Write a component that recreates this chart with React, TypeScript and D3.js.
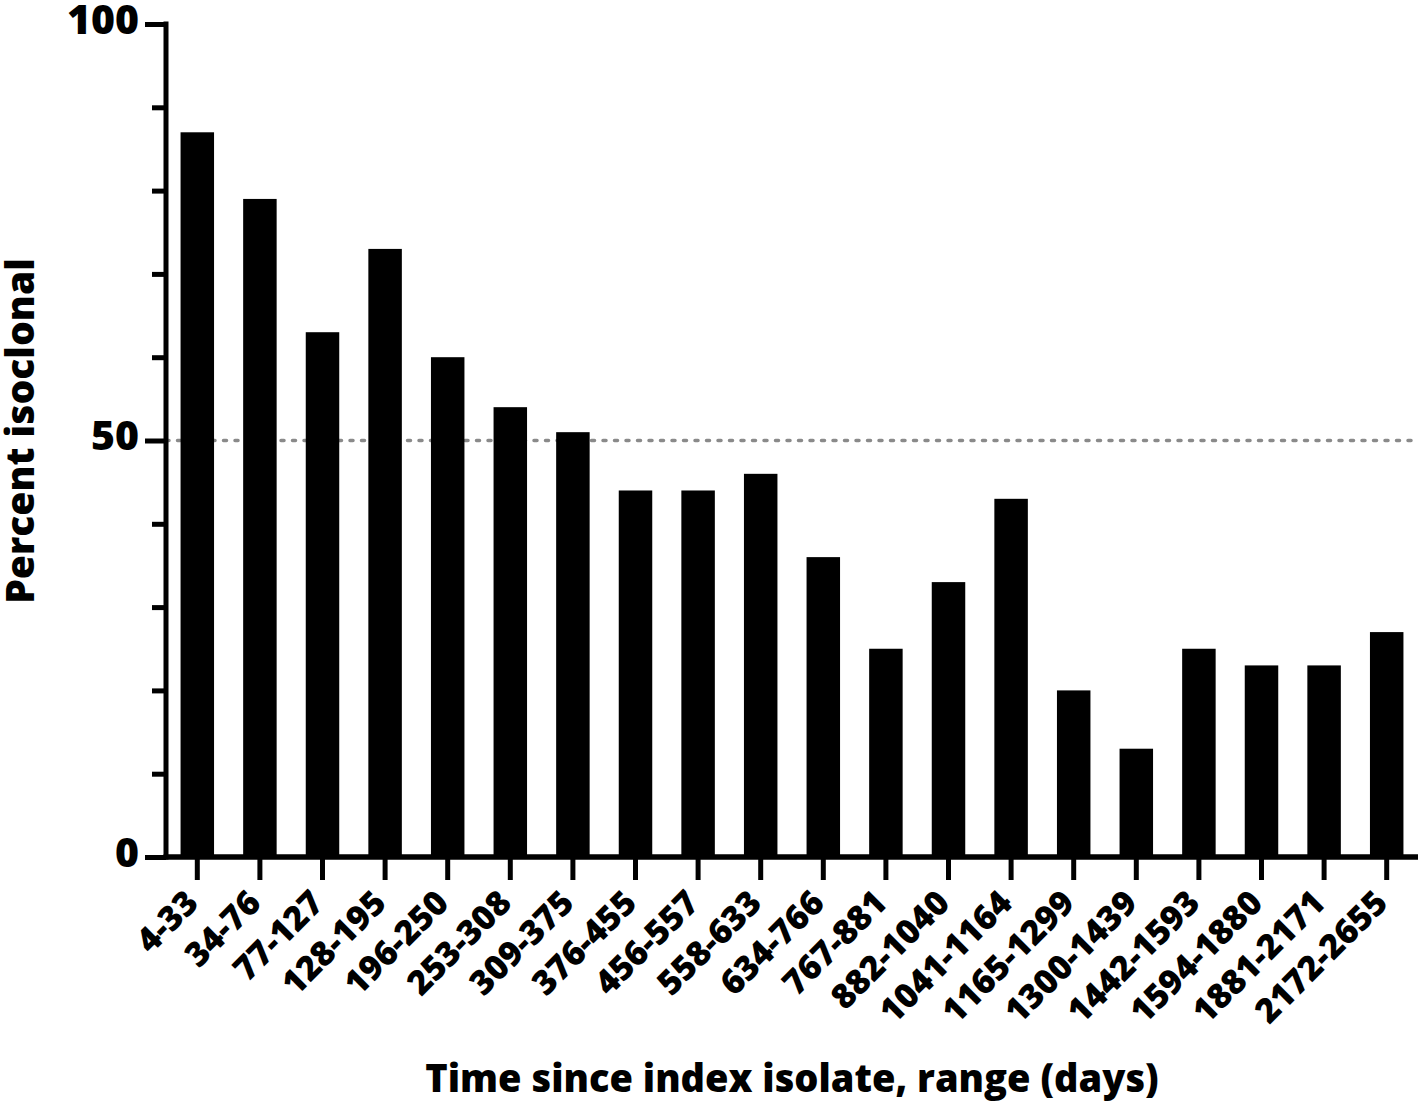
import React, { useEffect, useRef } from 'react';
import * as d3 from 'd3';

const ranges: string[] = [
  '4-33', '34-76', '77-127', '128-195', '196-250', '253-308', '309-375',
  '376-455', '456-557', '558-633', '634-766', '767-881', '882-1040',
  '1041-1164', '1165-1299', '1300-1439', '1442-1593', '1594-1880',
  '1881-2171', '2172-2655',
];

const percentIsoclonal: number[] = [
  87, 79, 63, 73, 60, 54, 51, 44, 44, 46, 36, 25, 33, 43, 20, 13, 25, 23, 23, 27,
];

const majorTicks: number[] = [0, 50, 100];
const minorTicks: number[] = [10, 20, 30, 40, 60, 70, 80, 90];
const referenceLine = 50;

const yTitle = 'Percent isoclonal';
const xTitle = 'Time since index isolate, range (days)';

const FONT = '"Open Sans", "DejaVu Sans", sans-serif';

const App: React.FC = () => {
  const svgRef = useRef<SVGSVGElement | null>(null);

  useEffect(() => {
    const width = 1421;
    const height = 1104;
    const left = 166;
    const right = 1418;
    const top = 24;
    const bottom = 857;

    const svg = d3.select(svgRef.current);
    svg.selectAll('*').remove();
    svg.attr('width', width).attr('height', height);

    const x = d3.scaleBand<string>()
      .domain(ranges)
      .range([left, right])
      .paddingInner(0.465)
      .paddingOuter(0.2325);

    const y = d3.scaleLinear().domain([0, 100]).range([bottom, top]);

    // dotted 50% line, behind the bars
    svg.append('line')
      .attr('x1', left)
      .attr('x2', right)
      .attr('y1', y(referenceLine))
      .attr('y2', y(referenceLine))
      .attr('stroke', '#8a8a8a')
      .attr('stroke-width', 3.5)
      .attr('stroke-linecap', 'round')
      .attr('stroke-dasharray', '3 8.5');

    // bars
    svg.append('g')
      .selectAll('rect')
      .data(percentIsoclonal)
      .enter()
      .append('rect')
      .attr('x', (_, i) => x(ranges[i])!)
      .attr('width', x.bandwidth())
      .attr('y', (d) => y(d))
      .attr('height', (d) => y(0) - y(d))
      .attr('fill', '#000');

    // minor y ticks
    const yMinor = svg.append('g')
      .attr('transform', `translate(${left}, 0)`)
      .call(d3.axisLeft(y).tickValues(minorTicks).tickSize(14).tickSizeOuter(0).tickFormat(() => ''));
    yMinor.select('.domain').remove();

    // major y ticks + labels
    const yAxis = svg.append('g')
      .attr('transform', `translate(${left}, 0)`)
      .call(d3.axisLeft(y).tickValues(majorTicks).tickSize(21).tickSizeOuter(0).tickPadding(6));
    yAxis.select('.domain').remove();
    yAxis.selectAll('text')
      .attr('dy', '0.23em')
      .style('font-family', FONT)
      .style('font-weight', 800)
      .style('font-size', '41px')
      .attr('fill', '#000');

    // x axis
    const xAxis = svg.append('g')
      .attr('transform', `translate(0, ${bottom})`)
      .call(d3.axisBottom(x).tickSize(23).tickSizeOuter(0));
    xAxis.select('.domain').remove();
    xAxis.selectAll('text')
      .attr('x', 0)
      .attr('y', 0)
      .attr('dy', 0)
      .attr('transform', 'translate(3, 48) rotate(-45)')
      .style('text-anchor', 'end')
      .style('font-family', FONT)
      .style('font-weight', 800)
      .style('font-size', '34px')
      .attr('fill', '#000');

    svg.selectAll('.tick line')
      .attr('stroke', '#000')
      .attr('stroke-width', 5);

    // axis lines
    svg.append('line')
      .attr('x1', left)
      .attr('x2', left)
      .attr('y1', y(100) - 2.5)
      .attr('y2', bottom + 2.5)
      .attr('stroke', '#000')
      .attr('stroke-width', 5);
    svg.append('line')
      .attr('x1', left - 2.5)
      .attr('x2', right)
      .attr('y1', bottom)
      .attr('y2', bottom)
      .attr('stroke', '#000')
      .attr('stroke-width', 5.5);

    // axis titles
    svg.append('text')
      .attr('x', 792)
      .attr('y', 1092)
      .style('text-anchor', 'middle')
      .style('font-family', FONT)
      .style('font-weight', 800)
      .style('font-size', '38px')
      .text(xTitle);

    svg.append('text')
      .attr('transform', 'rotate(-90)')
      .attr('x', -431)
      .attr('y', 34)
      .style('text-anchor', 'middle')
      .style('font-family', FONT)
      .style('font-weight', 800)
      .style('font-size', '39px')
      .text(yTitle);
  }, []);

  return (
    <svg
      ref={svgRef}
      style={{ position: 'absolute', left: 0, top: 0, display: 'block', background: '#fff' }}
    ></svg>
  );
};

export default App;
